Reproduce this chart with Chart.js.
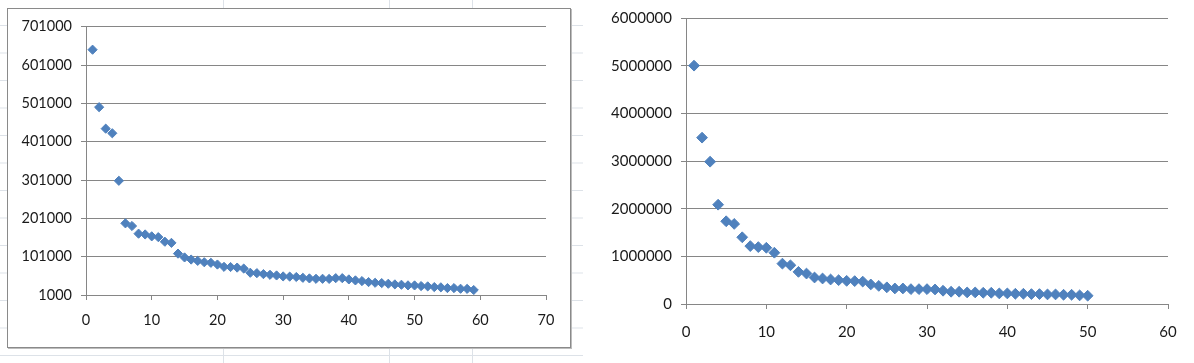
<!DOCTYPE html>
<html>
<head>
<meta charset="utf-8">
<script src="https://cdn.jsdelivr.net/npm/chart.js@4.4.1/dist/chart.umd.min.js"></script>
<style>
  html, body { margin: 0; padding: 0; }
  body {
    width: 1194px; height: 363px; position: relative; overflow: hidden;
    background-color: #ffffff;
    background-image:
      linear-gradient(to right, #dde2e8 1px, transparent 1px),
      linear-gradient(to bottom, #dde2e8 1px, transparent 1px);
    background-size: 83px 27.5px;
    background-position: 57px 25px;
  }
  #leftBox {
    position: absolute; left: 7px; top: 8px; width: 562px; height: 338px;
    background: #ffffff; border: 1px solid #8a8a8a; box-shadow: 1px 1px 0 #bdbdbd;
  }
  #rightBox {
    position: absolute; left: 583px; top: 0; width: 611px; height: 363px; background: #ffffff;
  }
  canvas { display: block; }
</style>
</head>
<body>
<div id="leftBox"><canvas id="leftChart" width="562" height="338"></canvas></div>
<div id="rightBox"><canvas id="rightChart" width="611" height="363"></canvas></div>
<script>
// ---- Data ----
const leftValues = [
  641000, 491000, 435000, 423000, 299000, 188000, 181000, 161000, 159000, 154000,
  152000, 140000, 137000, 109000, 99000, 93500, 90000, 86500, 85000, 80500,
  74500, 74000, 72500, 70000, 59000, 58000, 55500, 53700, 52000, 49500,
  49000, 48000, 45900, 44300, 43300, 43300, 43000, 45000, 45000, 41700,
  39100, 37300, 34700, 32900, 32100, 30300, 28700, 27700, 26100, 26000,
  24300, 23500, 21700, 21000, 19100, 19000, 17300, 17000, 14000
];
const rightValues = [
  5000000, 3490000, 2985000, 2083000, 1736000, 1680000, 1400000, 1215000, 1194000, 1180000,
  1076000, 847000, 812000, 674000, 639000, 556000, 535000, 514000, 500000, 486000,
  480000, 470000, 410000, 380000, 350000, 326000, 326000, 312000, 312000, 312000,
  305000, 278000, 257000, 257000, 243000, 243000, 236000, 236000, 222000, 222000,
  215000, 215000, 208000, 208000, 201000, 201000, 194000, 194000, 181000, 174000
];
const leftYTicks = [1000, 101000, 201000, 301000, 401000, 501000, 601000, 701000];
const leftXTicks = [0, 10, 20, 30, 40, 50, 60, 70];
const rightYTicks = [0, 1000000, 2000000, 3000000, 4000000, 5000000, 6000000];
const rightXTicks = [0, 10, 20, 30, 40, 50, 60];

const markerColor = '#4F81BD';
const axisColor = '#868686';
const textColor = '#1a1a1a';

function makeChart(id, values, xTicks, yTicks, opts) {
  const pts = values.map((v, i) => ({ x: i + 1, y: v }));
  return new Chart(document.getElementById(id), {
    type: 'scatter',
    data: {
      datasets: [{
        data: pts,
        pointStyle: 'rectRot',
        pointRadius: opts.radius,
        pointHoverRadius: opts.radius,
        backgroundColor: markerColor,
        borderColor: markerColor,
        borderWidth: 1
      }]
    },
    options: {
      responsive: false,
      animation: false,
      events: [],
      layout: { padding: { left: 0, top: opts.top, right: opts.right, bottom: 0 } },
      plugins: { legend: { display: false }, tooltip: { enabled: false } },
      scales: {
        x: {
          type: 'linear',
          min: xTicks[0], max: xTicks[xTicks.length - 1],
          afterBuildTicks: (s) => { s.ticks = xTicks.map(v => ({ value: v })); },
          afterFit: (s) => { s.height = opts.xHeight; },
          border: { color: axisColor, width: 1 },
          grid: { drawOnChartArea: false, drawTicks: true, tickLength: 5, color: axisColor },
          ticks: {
            color: textColor, padding: opts.xPad, maxRotation: 0,
            font: { family: 'Lato', size: opts.fontSize },
            callback: (v) => String(v)
          }
        },
        y: {
          type: 'linear',
          min: yTicks[0], max: yTicks[yTicks.length - 1],
          afterBuildTicks: (s) => { s.ticks = yTicks.map(v => ({ value: v })); },
          afterFit: (s) => { s.width = opts.yWidth; },
          border: { color: axisColor, width: 1 },
          grid: { drawOnChartArea: true, drawTicks: true, tickLength: 5, color: axisColor, lineWidth: 1 },
          ticks: {
            color: textColor, padding: 9,
            font: { family: 'Lato', size: opts.fontSize },
            callback: (v) => String(v)
          }
        }
      }
    }
  });
}

makeChart('leftChart', leftValues, leftXTicks, leftYTicks,
  { radius: 4.6, top: 16, right: 24, yWidth: 78, xHeight: 52, xPad: 12, fontSize: 14.5 });
makeChart('rightChart', rightValues, rightXTicks, rightYTicks,
  { radius: 5.4, top: 16, right: 26, yWidth: 103, xHeight: 59, xPad: 14, fontSize: 15 });
</script>
</body>
</html>
